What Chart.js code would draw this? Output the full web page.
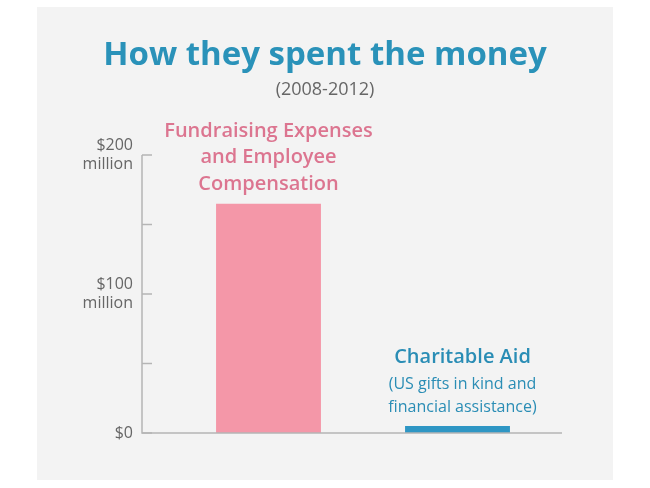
<!DOCTYPE html>
<html><head><meta charset="utf-8">
<script src="https://cdn.jsdelivr.net/npm/chart.js@4"></script>
<style>html,body{margin:0;padding:0;background:#fff}canvas{display:block}</style>
</head><body>
<div style="width:650px;height:488px"><canvas id="c"></canvas></div>
<script>
const categories = ["Fundraising Expenses and Employee Compensation", "Charitable Aid"];
const values = [165, 5];
const colors = ["#f497a8", "#2e96c4"];
const tickLabels = {0: ["$0"], 100: ["$100", "million"], 200: ["$200", "million"]};
const F = '"Open Sans", sans-serif';

const deco = {
  id: 'deco',
  beforeDraw(ch) {
    const c = ch.ctx;
    c.save();
    c.fillStyle = '#f3f3f3';
    c.fillRect(37, 7, 576, 473);
    c.restore();
  },
  afterDraw(ch) {
    const c = ch.ctx, y = ch.scales.y, x = ch.scales.x;
    const ax = 142, y0 = y.getPixelForValue(0), yT = y.getPixelForValue(200);
    c.save();
    c.strokeStyle = '#b5b5b5'; c.lineWidth = 1.5;
    c.beginPath(); c.moveTo(ax, yT); c.lineTo(ax, y0); c.lineTo(562, y0); c.stroke();
    [0, 50, 100, 150, 200].forEach(v => {
      const p = y.getPixelForValue(v);
      c.beginPath(); c.moveTo(ax, p); c.lineTo(152, p); c.stroke();
    });
    c.textAlign = 'center'; c.textBaseline = 'middle';
    c.fillStyle = '#2a92b9'; c.font = 'bold 33px ' + F;
    c.fillText('How they spent the money', 325, 56);
    c.fillStyle = '#666'; c.font = '18px ' + F;
    c.fillText('(2008-2012)', 325, 90);
    const x1 = x.getPixelForValue(0), x2 = x.getPixelForValue(1);
    c.fillStyle = '#dc7590'; c.font = '600 20px ' + F;
    ['Fundraising Expenses', 'and Employee', 'Compensation'].forEach((t, i) => c.fillText(t, x1, 131 + i * 26.5));
    c.fillStyle = '#2a8db5'; c.font = '600 20px ' + F;
    c.fillText('Charitable Aid', x2 + 5, 357);
    c.font = '16px ' + F;
    c.fillText('(US gifts in kind and', x2 + 5, 384);
    c.fillText('financial assistance)', x2 + 5, 407);
    c.restore();
  }
};

new Chart(document.getElementById('c'), {
  type: 'bar',
  data: { labels: categories, datasets: [{ data: values, backgroundColor: colors, barPercentage: 0.555, categoryPercentage: 1 }] },
  options: {
    responsive: true, maintainAspectRatio: false, animation: false,
    layout: { padding: { left: 40, right: 98, top: 155, bottom: 55 } },
    plugins: { legend: { display: false }, tooltip: { enabled: false } },
    scales: {
      x: { display: false },
      y: {
        min: 0, max: 200,
        afterFit(s) { s.width = 134; },
        border: { display: false },
        grid: { display: false, drawTicks: false },
        ticks: { stepSize: 50, padding: 41, color: '#666', font: { family: '"Open Sans"', size: 16 },
          callback: v => tickLabels[v] || '' }
      }
    }
  },
  plugins: [deco]
});
</script>
</body></html>
